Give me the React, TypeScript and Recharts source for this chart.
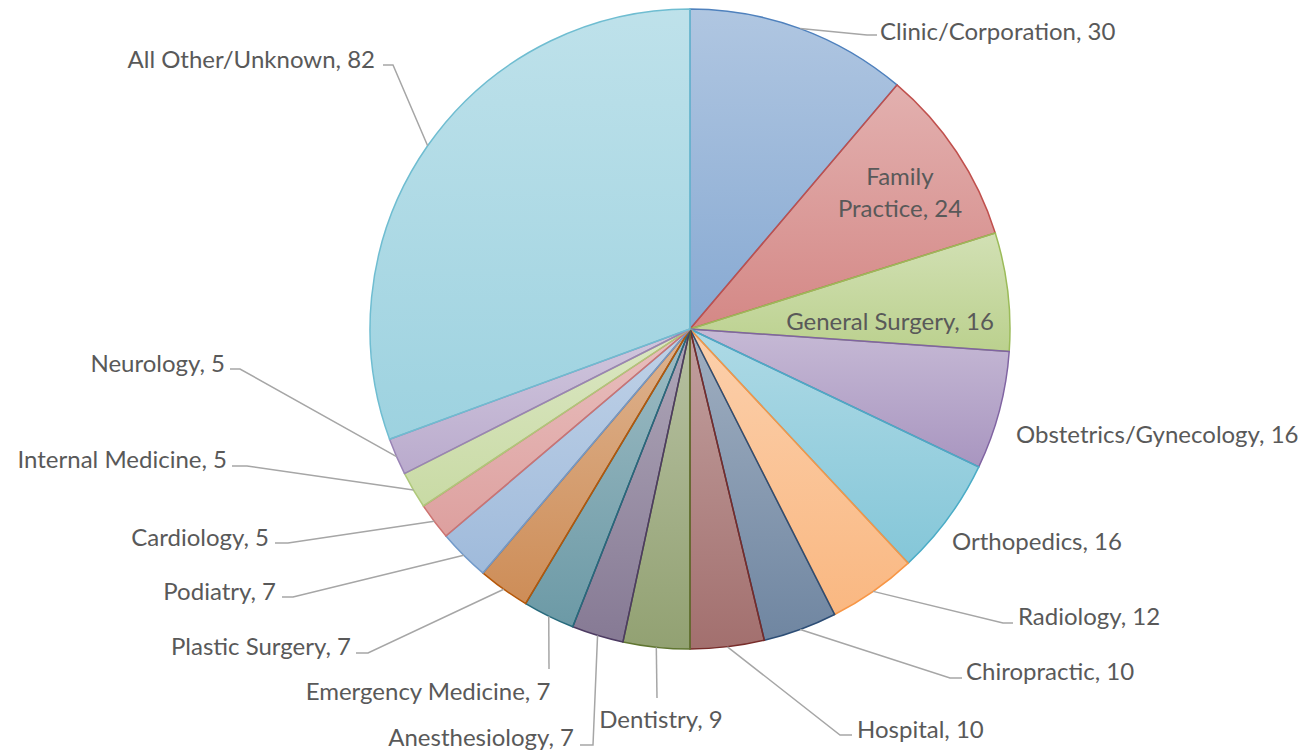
import React from "react";
import { PieChart, Pie, Cell } from "recharts";

const specialties = [
  "Clinic/Corporation",
  "Family Practice",
  "General Surgery",
  "Obstetrics/Gynecology",
  "Orthopedics",
  "Radiology",
  "Chiropractic",
  "Hospital",
  "Dentistry",
  "Anesthesiology",
  "Emergency Medicine",
  "Plastic Surgery",
  "Podiatry",
  "Cardiology",
  "Internal Medicine",
  "Neurology",
  "All Other/Unknown",
];

const counts = [30, 24, 16, 16, 16, 12, 10, 10, 9, 7, 7, 7, 7, 5, 5, 5, 82];

const sliceColors = [
  "#4F81BD", "#C0504D", "#9BBB59", "#8064A2", "#4BACC6", "#F79646",
  "#2C4D75", "#772C2A", "#5F7530", "#4D3B62", "#276A7C", "#B65708",
  "#729ACA", "#CD7371", "#AFC97A", "#9983B5", "#6FBDD1",
];

// where each data label sits; leader starts at the slice edge
// tx/ty = text anchor, pts = leader bend points after the edge
type LabelSpot = {
  tx: number;
  ty: number;
  anchor: "start" | "middle" | "end";
  lines?: string[];
  pts?: [number, number][];
};

const labelSpots: LabelSpot[] = [
  { tx: 880, ty: 30, anchor: "start", pts: [[867, 35], [877, 35]] },
  { tx: 900, ty: 175, anchor: "middle", lines: ["Family", "Practice, 24"] },
  { tx: 890, ty: 320, anchor: "middle" },
  { tx: 1016, ty: 433, anchor: "start" },
  { tx: 952, ty: 540, anchor: "start" },
  { tx: 1018, ty: 615, anchor: "start", pts: [[1003, 623], [1013, 623]] },
  { tx: 966, ty: 670, anchor: "start", pts: [[950, 678], [962, 678]] },
  { tx: 857, ty: 728, anchor: "start", pts: [[840, 735], [852, 735]] },
  { tx: 661, ty: 718, anchor: "middle", pts: [[657, 698]] },
  { tx: 574, ty: 736, anchor: "end", pts: [[593, 745], [580, 745]] },
  { tx: 428, ty: 690, anchor: "middle", pts: [[549, 669]] },
  { tx: 351, ty: 645, anchor: "end", pts: [[368, 653], [356, 653]] },
  { tx: 276, ty: 590, anchor: "end", pts: [[293, 597], [282, 597]] },
  { tx: 269, ty: 536, anchor: "end", pts: [[288, 543], [275, 543]] },
  { tx: 227, ty: 458, anchor: "end", pts: [[247, 466], [232, 466]] },
  { tx: 225, ty: 362, anchor: "end", pts: [[240, 369], [230, 369]] },
  { tx: 375, ty: 58, anchor: "end", pts: [[393, 65], [383, 65]] },
];

const chartData = specialties.map((name, i) => ({ name, value: counts[i] }));

const RAD = Math.PI / 180;
const labelFont = { fontFamily: "Lato, 'Open Sans', sans-serif", fontSize: 24, fill: "#595959" };

function SliceLabel(props: any) {
  const { cx, cy, midAngle, outerRadius, index, name, value } = props;
  const spot = labelSpots[index];
  if (!spot) return null;
  let leader = null;
  if (spot.pts) {
    const sx = cx + outerRadius * Math.cos(-midAngle * RAD);
    const sy = cy + outerRadius * Math.sin(-midAngle * RAD);
    const d = [[sx, sy], ...spot.pts].map((p) => p.join(",")).join(" ");
    leader = <polyline points={d} fill="none" stroke="#A6A6A6" strokeWidth={1.5} />;
  }
  return (
    <g key={`lbl-${index}`}>
      {leader}
      <text x={spot.tx} y={spot.ty} textAnchor={spot.anchor} dominantBaseline="central" {...labelFont}>
        {spot.lines
          ? spot.lines.map((ln, k) => (
              <tspan key={k} x={spot.tx} dy={k === 0 ? 0 : 32}>
                {ln}
              </tspan>
            ))
          : `${name}, ${value}`}
      </text>
    </g>
  );
}

export default function App() {
  return (
    <div style={{ position: "absolute", left: 0, top: 0, background: "#fff" }}>
      <PieChart width={1315} height={750} margin={{ top: 0, right: 0, bottom: 0, left: 0 }}>
        <defs>
          {sliceColors.map((c, i) => (
            <linearGradient key={i} id={`sliceGrad${i}`} x1="0" y1="0" x2="0" y2="1">
              <stop offset="0%" stopColor={c} stopOpacity={0.45} />
              <stop offset="100%" stopColor={c} stopOpacity={0.68} />
            </linearGradient>
          ))}
        </defs>
        <Pie
          data={chartData}
          dataKey="value"
          nameKey="name"
          cx={690}
          cy={329}
          outerRadius={320}
          startAngle={90}
          endAngle={-270}
          label={SliceLabel}
          labelLine={false}
          isAnimationActive={false}
        >
          {chartData.map((d, i) => (
            <Cell key={d.name} fill={`url(#sliceGrad${i})`} stroke={sliceColors[i]} strokeWidth={1.5} />
          ))}
        </Pie>
      </PieChart>
    </div>
  );
}
